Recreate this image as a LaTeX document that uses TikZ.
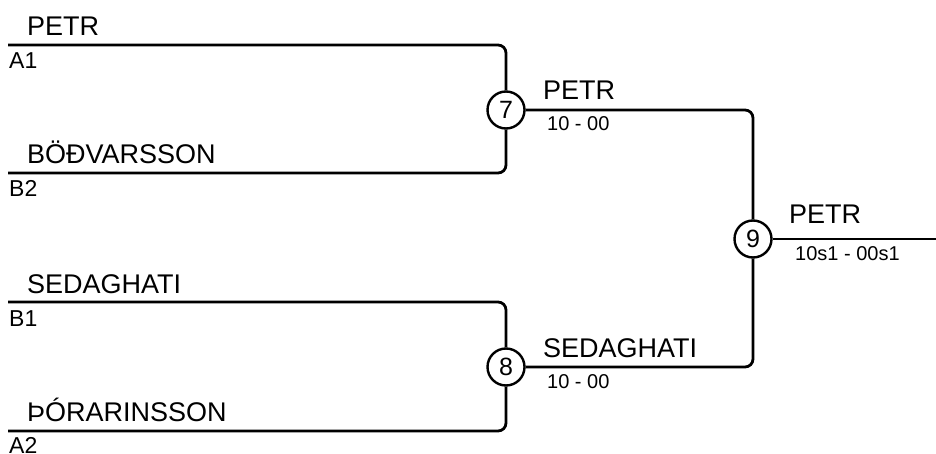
\documentclass[tikz,border=0pt]{standalone}
\usepackage{fontspec}
\setmainfont{Liberation Sans}
\usepackage{tikz}
\usetikzlibrary{arrows.meta}

\tikzset{
  player/.style={anchor=base west, inner sep=0pt, font=\fontsize{27}{30}\selectfont},
  seedlabel/.style={anchor=base west, inner sep=0pt, font=\fontsize{23}{26}\selectfont},
  result/.style={anchor=base west, inner sep=0pt, font=\fontsize{20}{22}\selectfont},
  match/.style={circle, draw, line width=2.4pt, minimum size=37pt, inner sep=0pt, fill=white, font=\fontsize{25}{27}\selectfont},
  wire/.style={line width=2.8pt, rounded corners=8pt}
}

\begin{document}
\begin{tikzpicture}[x=1pt,y=-1pt]
\useasboundingbox (0,0) rectangle (936,454);
% draws line starts
\coordinate (a1) at (8,45);
\coordinate (b2) at (8,173);
\coordinate (b1) at (8,302);
\coordinate (a2) at (8,431);
\coordinate (out) at (936,239);
% draws matches
\node[match] (m7) at (506,110) {7};
\node[match] (m8) at (506,367) {8};
\node[match] (m9) at (753,239) {9};
% draws edges
\draw[wire] (a1) -| (m7);
\draw[wire] (b2) -| (m7);
\draw[wire] (b1) -| (m8);
\draw[wire] (a2) -| (m8);
\draw[wire] (m7) -| (m9);
\draw[wire] (m8) -| (m9);
\draw[wire] (m9) -- (out);
% labels players
\node[player] (n1) at (27,36) {PETR};
\node[player] (n2) at (27,164) {BÖÐVARSSON};
\node[player] (n3) at (27,293) {SEDAGHATI};
\node[player] (n4) at (27,421) {ÞÓRARINSSON};
\node[seedlabel] (s1) at (9,69) {A1};
\node[seedlabel] (s2) at (9,197) {B2};
\node[seedlabel] (s3) at (9,326) {B1};
\node[seedlabel] (s4) at (9,453) {A2};
% labels winners
\node[player] (w7) at (543,100) {PETR};
\node[result] (r7) at (547,131) {10 - 00};
\node[player] (w8) at (543,357) {SEDAGHATI};
\node[result] (r8) at (547,388) {10 - 00};
\node[player] (w9) at (789,224) {PETR};
\node[result] (r9) at (795,260) {10s1 - 00s1};
\end{tikzpicture}
\end{document}
